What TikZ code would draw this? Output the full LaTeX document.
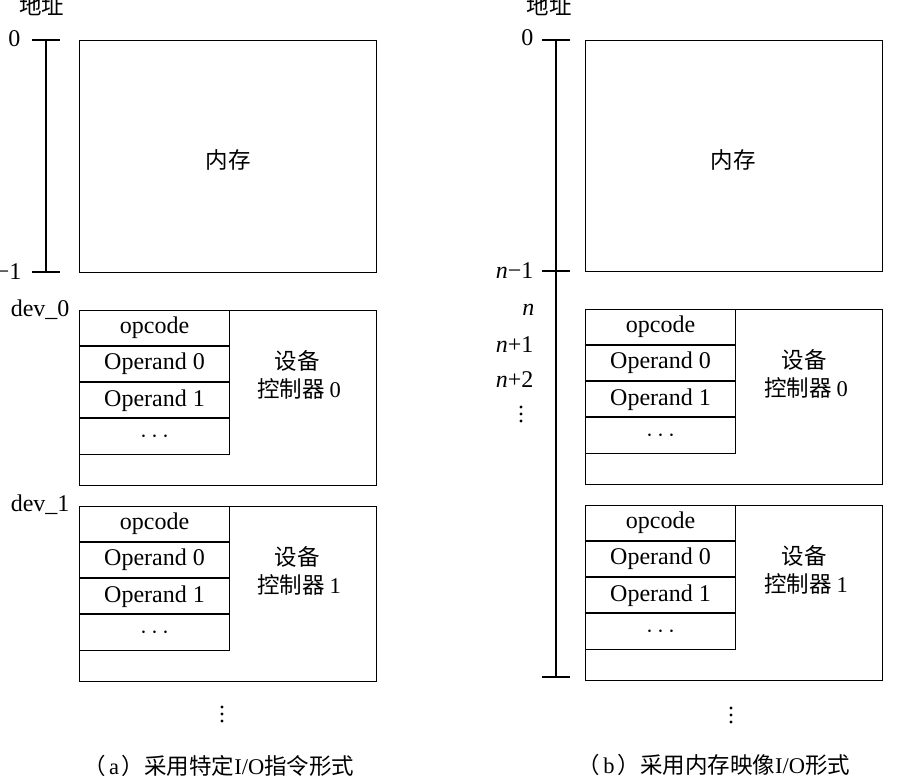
\documentclass[tikz,border=0pt]{standalone}
\usepackage{fontspec}
\setmainfont{Liberation Serif}
\newfontfamily\cjk{Noto Sans CJK SC}
\begin{document}
\begin{tikzpicture}[x=1pt,y=-1pt,line width=1.1pt,
  every node/.style={font=\fontsize{24}{28}\selectfont},
  frame/.style={draw,anchor=north west,inner sep=0pt},
  cell/.style={draw,anchor=north west,inner sep=0pt,minimum width=150pt,minimum height=35pt},
  lbl/.style={inner sep=0pt},
  zh/.style={inner sep=0pt,font=\fontsize{22.5}{27}\selectfont\cjk},
  addr/.style={inner sep=0pt,anchor=east},
  vdotsmark/.style={inner sep=0pt,minimum width=6pt,minimum height=18pt,
    path picture={
      \fill ([yshift=-2pt]path picture bounding box.north) circle (1.6pt);
      \fill (path picture bounding box.center) circle (1.6pt);
      \fill ([yshift=2pt]path picture bounding box.south) circle (1.6pt);}}]
\useasboundingbox (0,0) rectangle (911,784);

% one device controller: prefix, left x, top y, right-text x, controller number
\newcommand\devblock[5]{%
  \node[frame,minimum width=297pt,minimum height=175pt] (#1box) at (#2,#3) {};
  \node[cell] (#1r0) at (#2,#3) {opcode};
  \node[cell] (#1r1) at (#1r0.south west) {Operand 0};
  \node[cell] (#1r2) at (#1r1.south west) {Operand 1};
  \node[cell,minimum height=36pt] (#1r3) at (#1r2.south west) {$\cdots$};
  \node[zh] (#1t1) at (#4,#3+51) {设备};
  \node[zh] (#1t2) at (#4+2,#3+79) {控制器 {\rmfamily #5}};
}

% ---------- (a) dedicated I/O instructions ----------
\node[zh] (la) at (42,6) {地址};
\coordinate (atop) at (46,40);
\coordinate (abot) at (46,272);
\draw (atop) -- (abot);
\draw ([xshift=-14pt]atop) -- ([xshift=14pt]atop);
\draw ([xshift=-14pt]abot) -- ([xshift=14pt]abot);
\node[addr] (a0) at (21,39) {0};
\node[addr] (a1) at (22,272) {−1};
\node[frame,minimum width=297pt,minimum height=232pt] (amem) at (79,40) {};
\node[zh] (amemt) at (228,160) {内存};

\node[addr] (dev0) at (70,310) {dev\_0};
\devblock{ac0}{79}{310}{297}{0}
\node[addr] (dev1) at (70,505) {dev\_1};
\devblock{ac1}{79}{506}{297}{1}

\node[vdotsmark] (adots) at (222,714) {};
\node[zh] (acap) at (219,766) {（\hspace{3pt}{\rmfamily a}\hspace{3pt}）采用特定{\rmfamily I/O}指令形式};

% ---------- (b) memory-mapped I/O ----------
\node[zh] (lb) at (549,6) {地址};
\coordinate (btop) at (556,40);
\coordinate (bmid) at (556,271);
\coordinate (bbot) at (556,677);
\draw (btop) -- (bbot);
\draw ([xshift=-14pt]btop) -- ([xshift=14pt]btop);
\draw ([xshift=-14pt]bmid) -- ([xshift=14pt]bmid);
\draw ([xshift=-14pt]bbot) -- ([xshift=14pt]bbot);
\node[addr] (b0) at (534,38) {0};
\node[addr] (bn1) at (534,271) {\textit{n}−1};
\node[addr] (bn) at (535,310) {\textit{n}};
\node[addr] (bn2) at (534,345) {\textit{n}+1};
\node[addr] (bn3) at (534,380) {\textit{n}+2};
\node[vdotsmark] (bdots) at (521,414) {};
\node[frame,minimum width=297pt,minimum height=231pt] (bmem) at (585,40) {};
\node[zh] (bmemt) at (733,160) {内存};

\devblock{bc0}{585}{309}{804}{0}
\devblock{bc1}{585}{505}{804}{1}

\node[vdotsmark] (bdots2) at (731,715) {};
\node[zh] (bcap) at (714,765) {（\hspace{3pt}{\rmfamily b}\hspace{3pt}）采用内存映像{\rmfamily I/O}形式};
\end{tikzpicture}
\end{document}
